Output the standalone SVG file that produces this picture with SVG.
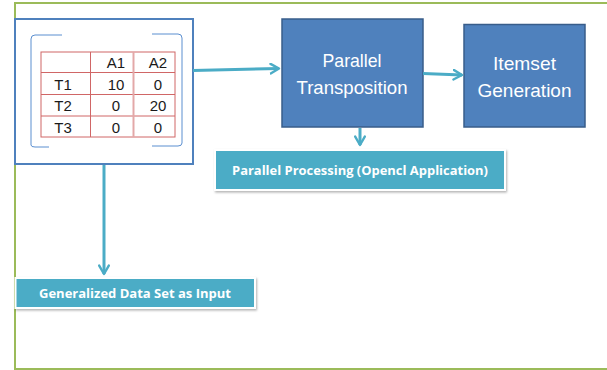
<svg xmlns="http://www.w3.org/2000/svg" width="607" height="370" viewBox="0 0 607 370">
  <defs>
    <marker id="chev" viewBox="0 0 10 10" refX="8" refY="5" markerWidth="4" markerHeight="4" orient="auto" markerUnits="strokeWidth">
      <path d="M1,1 L8,5 L1,9" fill="none" stroke="#4bacc6" stroke-width="2" stroke-linecap="round" stroke-linejoin="round"/>
    </marker>
    <filter id="shadow" x="-10%" y="-20%" width="120%" height="150%">
      <feDropShadow dx="1" dy="1.5" stdDeviation="1" flood-color="#000" flood-opacity="0.3"/>
    </filter>
  </defs>
  <style>
    .frame { fill: none; stroke: #9bbb59; stroke-width: 2; }
    .box { fill: #4f81bd; stroke: #385d8a; stroke-width: 1.5; }
    .boxtxt { font-family: "Liberation Sans", Arial, sans-serif; font-size: 19px; fill: #ffffff; text-anchor: middle; }
    .label { fill: #4bacc6; stroke: #ffffff; stroke-width: 2; }
    .labtxt { font-family: "Open Sans", "Liberation Sans", sans-serif; font-size: 12.5px; font-weight: bold; fill: #ffffff; text-anchor: middle; }
    .grid { stroke: #d06666; stroke-width: 1; fill: none; }
    .cell { font-family: "Liberation Sans", Arial, sans-serif; font-size: 15px; fill: #1a1a1a; text-anchor: middle; }
    .bracket { fill: none; stroke: #5b8fd0; stroke-width: 1; }
    .conn { fill: none; stroke: #4bacc6; stroke-width: 3; marker-end: url(#chev); }
  </style>

  <rect width="607" height="370" fill="#ffffff"/>

  <!-- outer green frame -->
  <path class="frame" d="M607,3 H15 V369 H607"/>

  <!-- input data table -->
  <g id="input-table">
    <rect x="15" y="19" width="178" height="145" fill="#ffffff" stroke="#4f81bd" stroke-width="2"/>
    <path class="bracket" d="M62,35 H35 Q31,35 31,39 V145 Q31,147 35,147 H49"/>
    <path class="bracket" d="M152,34 H178 Q182,34 182,38 V143 Q182,146 178,146 H152"/>
    <rect class="grid" x="41" y="52" width="134" height="85"/>
    <path class="grid" d="M41,72.5 H175 M41,94.5 H175 M41,116 H175 M90.5,52 V137"/>
    <path d="M133.5,52 V137" stroke="#e3a8a8" stroke-width="2"/>
    <text class="cell" x="116" y="68">A1</text>
    <text class="cell" x="158" y="68">A2</text>
    <text class="cell" x="63" y="90">T1</text>
    <text class="cell" x="116" y="90">10</text>
    <text class="cell" x="158" y="90">0</text>
    <text class="cell" x="63" y="111">T2</text>
    <text class="cell" x="116" y="111">0</text>
    <text class="cell" x="158" y="111">20</text>
    <text class="cell" x="63" y="132.5">T3</text>
    <text class="cell" x="116" y="132.5">0</text>
    <text class="cell" x="158" y="132.5">0</text>
  </g>

  <g id="parallel-transposition">
    <rect class="box" x="282" y="19" width="141" height="108"/>
    <text class="boxtxt" x="352" y="67" textLength="59" lengthAdjust="spacingAndGlyphs">Parallel</text>
    <text class="boxtxt" x="352" y="94" textLength="111" lengthAdjust="spacingAndGlyphs">Transposition</text>
  </g>

  <g id="itemset-generation">
    <rect class="box" x="464" y="24.5" width="121" height="102.5"/>
    <text class="boxtxt" x="524.5" y="70" textLength="63" lengthAdjust="spacingAndGlyphs">Itemset</text>
    <text class="boxtxt" x="524.5" y="96.5" textLength="94" lengthAdjust="spacingAndGlyphs">Generation</text>
  </g>

  <g id="parallel-processing">
    <rect class="label" x="215" y="150" width="290" height="40" filter="url(#shadow)"/>
    <text class="labtxt" x="360" y="175" textLength="256" lengthAdjust="spacingAndGlyphs">Parallel Processing (Opencl Application)</text>
  </g>

  <g id="generalized-input">
    <rect class="label" x="15.5" y="278" width="239.5" height="30" filter="url(#shadow)"/>
    <text class="labtxt" x="135" y="298" textLength="192" lengthAdjust="spacingAndGlyphs">Generalized Data Set as Input</text>
  </g>

  <g id="connectors">
    <path class="conn" d="M193,70.5 L279,68.5"/>
    <path class="conn" d="M423,73.5 L462,75"/>
    <path class="conn" d="M360,128 V145"/>
    <path class="conn" d="M104,165 V274"/>
  </g>
</svg>
